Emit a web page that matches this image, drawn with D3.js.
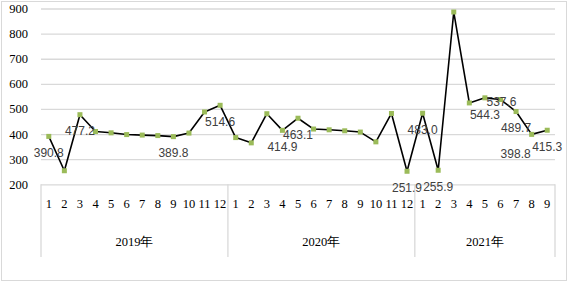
<!DOCTYPE html>
<html>
<head>
<meta charset="utf-8">
<script src="https://cdn.jsdelivr.net/npm/d3@7"></script>
<style>
  body { margin: 0; background: #fff; }
  svg { display: block; }
</style>
</head>
<body>
<svg width="571" height="284"></svg>
<script>
const years = ["2019年", "2020年", "2021年"];
const months2019 = ["1","2","3","4","5","6","7","8","9","10","11","12"];
const months2020 = ["1","2","3","4","5","6","7","8","9","10","11","12"];
const months2021 = ["1","2","3","4","5","6","7","8","9"];
const values2019 = [390.8, 254, 477.2, 410, 405, 398, 396, 394, 389.8, 404, 488, 514.6];
const values2020 = [386, 365, 481, 414.9, 463.1, 420, 417, 413, 408, 369, 482, 251.9];
const values2021 = [483.0, 255.9, 886, 524, 544.3, 537.6, 489.7, 398.8, 415.3];
const yTicks = [200, 300, 400, 500, 600, 700, 800, 900];
// which points carry a data label
const labelled2019 = ["1", "3", "9", "12"];
const labelled2020 = ["4", "5", "12"];
const labelled2021 = ["1", "2", "5", "6", "7", "8", "9"];

function buildRows() {
    const groups = [
        [years[0], months2019, values2019, labelled2019],
        [years[1], months2020, values2020, labelled2020],
        [years[2], months2021, values2021, labelled2021]
    ];
    let rows = [];
    for (let g of groups) {
        g[1].forEach((m, i) => {
            rows.push({
                key: g[0] + "-" + m,
                year: g[0],
                month: m,
                value: g[2][i],
                label: g[3].includes(m)
            });
        });
    }
    return rows;
}

const rows = buildRows();
const svg = d3.select("svg");

const area = { left: 41, right: 555, top: 8.5, bottom: 184.3 };

const scX = d3.scaleBand()
    .domain(rows.map(d => d.key))
    .range([area.left, area.right]);

const scY = d3.scaleLinear()
    .domain([200, 900])
    .range([area.bottom, area.top]);

// outer frame
svg.append("rect")
    .attr("x", 1.5).attr("y", 1.5)
    .attr("width", 565).attr("height", 279)
    .style("fill", "none")
    .style("stroke", "#d9d9d9");

// y axis with gridlines
const gY = svg.append("g")
    .attr("transform", `translate(${area.left},0)`)
    .call(d3.axisLeft(scY).tickValues(yTicks)
        .tickSize(-(area.right - area.left)).tickPadding(13));
gY.select(".domain").remove();
gY.selectAll("line").style("stroke", "#d9d9d9").style("stroke-width", 1.3);
gY.selectAll("text")
    .style("font-family", "'Liberation Serif', serif")
    .style("font-size", "12.5px")
    .style("fill", "#000");

// x axis month labels
const gX = svg.append("g")
    .attr("transform", `translate(0,${area.bottom})`)
    .call(d3.axisBottom(scX).tickFormat(k => rows.find(d => d.key === k).month)
        .tickSize(0).tickPadding(15));
gX.select(".domain").remove();
gX.selectAll("text")
    .style("font-family", "'Liberation Serif', serif")
    .style("font-size", "12.5px")
    .style("fill", "#000");

// year group separators and labels
const bottomSep = 257;
const yearSpans = years.map(y => {
    const keys = rows.filter(d => d.year === y).map(d => d.key);
    return { year: y, x0: scX(keys[0]), x1: scX(keys[keys.length - 1]) + scX.bandwidth() };
});
const seps = [yearSpans[0].x0].concat(yearSpans.map(s => s.x1));
svg.selectAll(".sep")
    .data(seps)
    .enter()
    .append("line")
    .attr("x1", d => d).attr("x2", d => d)
    .attr("y1", area.bottom).attr("y2", bottomSep)
    .style("stroke", "#d9d9d9")
    .style("stroke-width", 1.3);

svg.selectAll(".year")
    .data(yearSpans)
    .enter()
    .append("text")
    .attr("x", d => (d.x0 + d.x1) / 2)
    .attr("y", 245.5)
    .attr("text-anchor", "middle")
    .style("font-family", "'Liberation Serif', serif")
    .style("font-size", "12.5px")
    .style("fill", "#000")
    .text(d => d.year);

// line
const line = d3.line()
    .x(d => scX(d.key) + scX.bandwidth() / 2)
    .y(d => scY(d.value));

svg.append("path")
    .datum(rows)
    .attr("d", line)
    .style("fill", "none")
    .style("stroke", "#000")
    .style("stroke-width", 1.6)
    .style("stroke-linejoin", "round");

// markers
const m = 5;
svg.selectAll(".marker")
    .data(rows)
    .enter()
    .append("rect")
    .attr("x", d => scX(d.key) + scX.bandwidth() / 2 - m / 2)
    .attr("y", d => scY(d.value) - m / 2)
    .attr("width", m)
    .attr("height", m)
    .style("fill", "#9bbb59");

// data labels, below the point unless moved
const labelShift = {
    "2021年-6": [1, 2],
    "2021年-8": [-16, 19]
};
svg.selectAll(".dlabel")
    .data(rows.filter(d => d.label))
    .enter()
    .append("text")
    .attr("x", d => scX(d.key) + scX.bandwidth() / 2 + (labelShift[d.key] ? labelShift[d.key][0] : 0))
    .attr("y", d => scY(d.value) + (labelShift[d.key] ? labelShift[d.key][1] : 16.5))
    .attr("dy", "0.35em")
    .attr("text-anchor", "middle")
    .style("font-family", "'Liberation Sans', sans-serif")
    .style("font-size", "12px")
    .style("fill", "#404040")
    .text(d => d.value.toFixed(1));
</script>
</body>
</html>
